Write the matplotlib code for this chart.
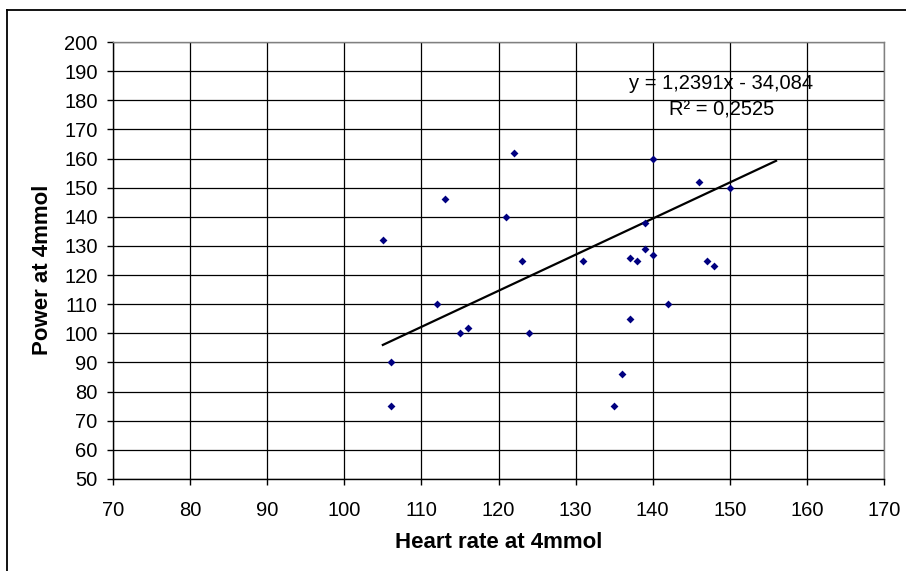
import matplotlib
matplotlib.use("Agg")
import matplotlib.pyplot as plt
from matplotlib.lines import Line2D
import numpy as np

plt.rcParams['font.family'] = ['Liberation Sans', 'DejaVu Sans']

heart_rate = [105, 106, 106, 112, 113, 115, 116, 121, 122, 123, 124, 131, 135,
              136, 137, 137, 138, 139, 139, 140, 140, 142, 146, 147, 148, 150]
power = [132, 90, 75, 110, 146, 100, 102, 140, 162, 125, 100, 125, 75,
         86, 126, 105, 125, 138, 129, 160, 127, 110, 152, 125, 123, 150]

slope = 1.2391
intercept = -34.084
r_squared = 0.2525
trend_x = [105, 156]

x_ticks = list(range(70, 171, 10))
y_ticks = list(range(50, 201, 10))

fig = plt.figure(figsize=(9.06, 5.71), dpi=100)
ax = fig.add_axes([113/906, 1-479/571, (884-113)/906, (479-42)/571])

ax.set_xlim(70, 170)
ax.set_ylim(50, 200)
ax.set_xticks(x_ticks)
ax.set_yticks(y_ticks)
ax.grid(True, color='black', linewidth=0.9)
ax.set_axisbelow(True)

tx = np.array(trend_x, dtype=float)
ax.plot(tx, slope*tx + intercept, color='black', linewidth=1.6, zorder=3)
ax.scatter(heart_rate, power, marker='D', s=16, color='#000080', zorder=4,
           linewidths=0)

ax.text(148.9, 185.9, "y = 1,2391x - 34,084", ha='center', va='center', fontsize=14.5)
ax.text(149.0, 176.6, "R² = 0,2525", ha='center', va='center', fontsize=14.5)

for s in ['top', 'right']:
    ax.spines[s].set_color('#808080')
for s in ['left', 'bottom']:
    ax.spines[s].set_color('black')
for s in ax.spines.values():
    s.set_linewidth(1.0)

ax.tick_params(direction='out', length=4, width=1, labelsize=14.5, colors='black')
ax.tick_params(axis='x', pad=12)
ax.tick_params(axis='y', pad=7)

ax.set_xlabel("Heart rate at 4mmol", fontsize=16, fontweight='bold')
ax.set_ylabel("Power at 4mmol", fontsize=16, fontweight='bold')
ax.xaxis.label.set_va('center')
ax.yaxis.label.set_va('center')
ax.xaxis.set_label_coords(0.5, (479-543)/437)
ax.yaxis.set_label_coords((43-113)/771, (479-270)/437)

# outer chart frame (only top and left edges visible)
fig.add_artist(Line2D([7/906, 1.0], [1-10/571, 1-10/571], color='black', linewidth=1.3,
                      transform=fig.transFigure))
fig.add_artist(Line2D([7/906, 7/906], [0, 1-10/571], color='black', linewidth=1.3,
                      transform=fig.transFigure))

fig.savefig("out.png", dpi=100)
